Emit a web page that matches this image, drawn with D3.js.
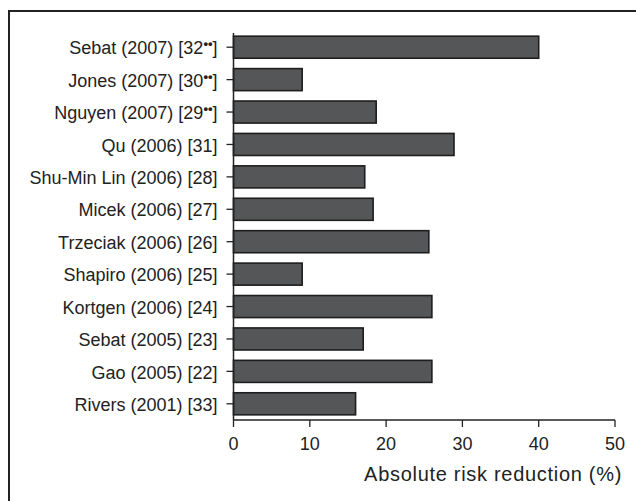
<!DOCTYPE html>
<html><head><meta charset="utf-8">
<script src="https://cdn.jsdelivr.net/npm/d3@7"></script>
<style>body{margin:0;background:#fff}svg{display:block}text{font-family:"Liberation Sans",Arial,sans-serif;fill:#222}</style>
</head><body>
<script>
const studies = ["Sebat (2007) [32", "Jones (2007) [30", "Nguyen (2007) [29", "Qu (2006) [31]", "Shu-Min Lin (2006) [28]", "Micek (2006) [27]", "Trzeciak (2006) [26]", "Shapiro (2006) [25]", "Kortgen (2006) [24]", "Sebat (2005) [23]", "Gao (2005) [22]", "Rivers (2001) [33]"];
const superscripted = [true, true, true, false, false, false, false, false, false, false, false, false];
const reduction = [40, 9, 18.7, 28.9, 17.2, 18.3, 25.6, 9, 26, 17, 26, 16];
const xTicks = [0, 10, 20, 30, 40, 50];
const xTitle = "Absolute risk reduction (%)";

const W = 636, H = 501;
const svg = d3.select("body").append("svg").attr("width", W).attr("height", H);
svg.append("rect").attr("x", 9).attr("y", 11).attr("width", 640).attr("height", 520)
  .attr("fill", "none").attr("stroke", "#222").attr("stroke-width", 2);

const x = d3.scaleLinear().domain([0, 50]).range([233.5, 615]);
const y = d3.scaleBand().domain(studies).range([31, 420]).paddingInner(0.32).paddingOuter(0.16);

svg.selectAll("rect.bar").data(studies).join("rect").attr("class", "bar")
  .attr("x", x(0)).attr("y", d => y(d))
  .attr("width", (d, i) => x(reduction[i]) - x(0)).attr("height", y.bandwidth())
  .attr("fill", "#555657").attr("stroke", "#1e1e1e").attr("stroke-width", 1.6);

// y axis
const ya = svg.append("g").attr("transform", `translate(${x(0)},0)`);
ya.append("line").attr("x1", 0).attr("x2", 0).attr("y1", 33).attr("y2", 420).attr("stroke", "#222").attr("stroke-width", 1.5);
studies.forEach((s, i) => {
  const cy = y(s) + y.bandwidth() / 2;
  ya.append("line").attr("x1", -7).attr("x2", 0).attr("y1", cy).attr("y2", cy).attr("stroke", "#222").attr("stroke-width", 1.3);
  const t = ya.append("text").attr("x", -16).attr("y", cy).attr("dy", "0.4em").attr("text-anchor", "end").attr("font-size", 18);
  t.append("tspan").text(s);
  if (superscripted[i]) {
    t.append("tspan").attr("dy", -6).attr("font-size", 13).attr("font-weight", "bold").text("••");
    t.append("tspan").attr("dy", 6).text("]");
  }
});

// x axis
const xa = svg.append("g").attr("transform", "translate(0,420)");
xa.append("line").attr("x1", x(0)).attr("x2", x(50)).attr("stroke", "#222").attr("stroke-width", 1.5);
xTicks.forEach(v => {
  xa.append("line").attr("x1", x(v)).attr("x2", x(v)).attr("y1", 0).attr("y2", 7).attr("stroke", "#222").attr("stroke-width", 1.3);
  xa.append("text").attr("x", x(v)).attr("y", 24).attr("dy", "0.35em").attr("text-anchor", "middle").attr("font-size", 18).text(v);
});
svg.append("text").attr("x", 622).attr("y", 481).attr("text-anchor", "end").attr("font-size", 20)
  .attr("letter-spacing", 0.7).text(xTitle);
</script>
</body></html>
